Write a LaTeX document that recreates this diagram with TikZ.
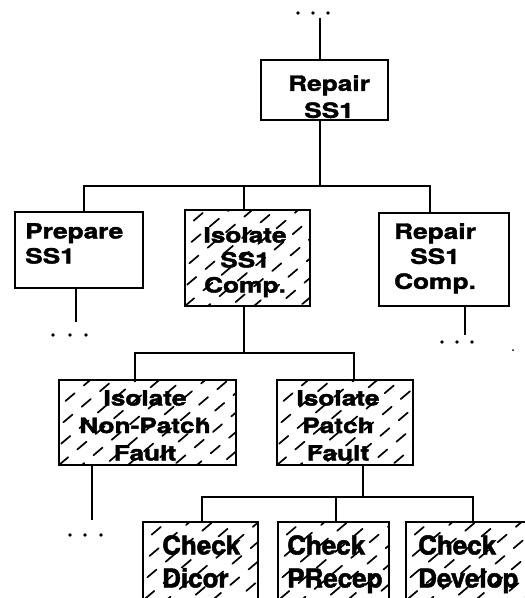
\documentclass[tikz,border=0pt]{standalone}
\usepackage{fontspec}
\newfontfamily\lbl[FakeStretch=1.25, FakeBold=1.8]{TeX Gyre Heros}
\newfontfamily\lblb[FakeBold=1.8]{TeX Gyre Heros}
\begin{document}
\begin{tikzpicture}[x=1pt,y=-1pt,
  box/.style={draw, line width=1.9pt, inner sep=0pt, fill=white},
  hatch/.style={path picture={
    \foreach \k in {-8,...,10}{
      \draw[line width=1.7pt, line cap=round, dash pattern=on 12pt off 12pt, dash phase=\k*9pt]
        ([xshift=\k*23pt]path picture bounding box.south west) -- ++(230pt,195pt);
    }}},
  txt/.style={inner sep=0pt, font=\lbl\bfseries\fontsize{21}{25}\selectfont},
  txtb/.style={inner sep=0pt, font=\lblb\bfseries\fontsize{26}{33}\selectfont},
  conn/.style={line width=1.7pt},
  dotn/.style={circle, fill=black, inner sep=0pt, minimum size=3.6pt}
]
\clip (0,0) rectangle (525,598);
\fill[white] (0,0) rectangle (525,598);

% boxes
\node[box, minimum width=127pt, minimum height=60pt] (rep) at (324.5,90) {};
\node[box, minimum width=128pt, minimum height=76pt] (prep) at (79,250) {};
\node[box, hatch, minimum width=125pt, minimum height=96pt] (iso) at (247.5,258) {};
\node[box, minimum width=130pt, minimum height=93pt] (rsc) at (444,259.5) {};
\node[box, hatch, minimum width=177pt, minimum height=85pt] (npf) at (147.5,422.5) {};
\node[box, hatch, minimum width=136pt, minimum height=85pt] (ppf) at (345,422.5) {};
\node[box, hatch, minimum width=115pt, minimum height=98pt] (cd) at (200.5,571) {};
\node[box, hatch, minimum width=111pt, minimum height=98pt] (cp) at (333.5,571) {};
\node[box, hatch, minimum width=139pt, minimum height=98pt] (cv) at (475.5,571) {};

% texts
\node[txt, align=center, anchor=north] (repT) at (329,75) {Repair\\[2pt]SS1};
\node[txt, align=left, anchor=north west] (prepT) at (25,223) {Prepare\\SS1};
\node[txt, align=center, anchor=north] (isoT) at (245,227) {Isolate\\SS1\\Comp.};
\node[txt, align=center, anchor=north] (rscT) at (435,223) {Repair\\SS1\\Comp.};
\node[txt, align=center, anchor=north] (npfT) at (145,390) {Isolate\\[2.5pt]Non-Patch\\[2.5pt]Fault};
\node[txt, align=center, anchor=north] (ppfT) at (338,390) {Isolate\\[2.5pt]Patch\\[2.5pt]Fault};
\node[txtb, align=left, anchor=north west] (cdT) at (162,535) {Check\\Dicor};
\node[txtb, align=left, anchor=north west] (cpT) at (287,535) {Check\\PRecep};
\node[txtb, align=left, anchor=north west] (cvT) at (418,535) {Check\\Develop};

% top dots and line
\node[dotn] (td1) at (298,13) {};
\node[dotn] (td2) at (313,13) {};
\node[dotn] (td3) at (328,13) {};
\coordinate (t0) at (320,18);
\draw[conn] (t0) -- (t0 |- rep.north);

% level 1 bus
\coordinate (b1) at (320,186);
\coordinate (b1L) at (84,186);
\coordinate (b1M) at (244,186);
\coordinate (b1R) at (430,186);
\draw[conn] (rep.south -| b1) -- (b1);
\draw[conn] (prep.north -| b1L) -- (b1L) -- (b1R) -- (rsc.north -| b1R);
\draw[conn] (b1M) -- (iso.north -| b1M);

% prepare dangling
\coordinate (pe) at (76,322);
\draw[conn] (prep.south -| pe) -- (pe);
\node[dotn] (pd1) at (53,335) {};
\node[dotn] (pd2) at (70,335) {};
\node[dotn] (pd3) at (86,335) {};

% repair comp dangling
\coordinate (re) at (465,335);
\draw[conn] (rsc.south -| re) -- (re);
\node[dotn] (rd1) at (442,342) {};
\node[dotn] (rd2) at (457,342) {};
\node[dotn] (rd3) at (472,342) {};
\node[dotn, minimum size=2pt] (speck) at (513,350) {};

% level 2 bus
\coordinate (b2) at (244,353);
\coordinate (b2L) at (135,353);
\coordinate (b2R) at (354,353);
\draw[conn] (iso.south -| b2) -- (b2);
\draw[conn] (npf.north -| b2L) -- (b2L) -- (b2R) -- (ppf.north -| b2R);

% non-patch dangling
\coordinate (ne) at (92,520);
\draw[conn] (npf.south -| ne) -- (ne);
\node[dotn] (nd1) at (70,535) {};
\node[dotn] (nd2) at (85,535) {};
\node[dotn] (nd3) at (101,535) {};

% level 3 bus
\coordinate (b3) at (363,497);
\coordinate (b3L) at (202,497);
\coordinate (b3M) at (336,497);
\coordinate (b3R) at (473,497);
\draw[conn] (ppf.south -| b3) -- (b3);
\draw[conn] (cd.north -| b3L) -- (b3L) -- (b3R) -- (cv.north -| b3R);
\draw[conn] (b3M) -- (cp.north -| b3M);
\end{tikzpicture}
\end{document}
